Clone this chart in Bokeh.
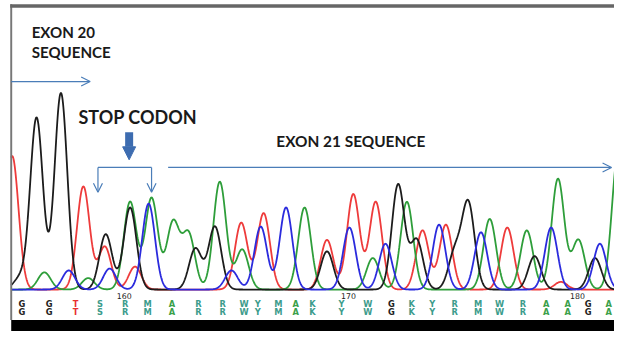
import numpy as np
from bokeh.plotting import figure
from bokeh.models import Range1d, Arrow, OpenHead, NormalHead, ColumnDataSource
from bokeh.embed import file_html
from bokeh.resources import INLINE
from bokeh.core.properties import value

# ---------------- data ----------------
first_base = 156
base_calls = list("GGTSRMARRWYMAKYWGKYRMWRAAGA")
base_scan = [22, 50, 77, 102, 128, 151, 176, 203, 228, 250, 264, 285, 303,
             320, 350, 377, 401, 422, 443, 466, 490, 512, 536, 560, 582, 603, 624]
tick_labels = ["160", "170", "180"]
tick_scan = [127, 357, 592]

# peaks per dye channel: scan position, signal height
g_pos = [20, 37, 62, 108, 133, 200, 220, 335, 408, 427, 466, 480, 548, 610]
g_amp = [12, 180, 206, 58, 86, 43, 66, 40, 110, 52, 38, 90, 35, 33]
t_pos = [12, 85, 107, 138, 247, 270, 335, 362, 385, 433, 457, 520, 575]
t_amp = [140, 108, 45, 24, 70, 80, 52, 100, 92, 62, 68, 65, 8]
a_pos = [45, 90, 133, 155, 177, 193, 225, 248, 312, 382, 417, 502, 540, 572, 593, 634]
a_amp = [18, 12, 92, 96, 70, 58, 113, 42, 86, 33, 92, 74, 62, 116, 52, 145]
c_pos = [70, 112, 152, 237, 267, 293, 358, 395, 450, 493, 565, 615]
c_amp = [20, 22, 90, 20, 66, 86, 65, 48, 68, 60, 65, 48]

# ---------------- figure (fits the window inside the 8px page margin) ----------------
W, H = 614, 331
BASE = 303  # baseline row of the trace panel (picture units)
S = W / 630.0  # size factor of the drawing


def Y(py):
    return BASE - py


def fs(px):
    return "%.1fpx" % (px * S)


p = figure(width=W, height=H, output_backend="svg", toolbar_location=None, title=None,
           x_range=Range1d(0, 630), y_range=Range1d(Y(347), Y(0)),
           x_axis_type=None, y_axis_type=None, min_border=0)
p.outline_line_color = None
p.xgrid.visible = False
p.ygrid.visible = False
p.background_fill_color = "white"
p.border_fill_color = "white"

x = np.linspace(11, 640, 1600)
SIG = 6.5


def trace(pos, amp):
    y = np.zeros_like(x)
    for c, a in zip(pos, amp):
        y += a * np.exp(-0.5 * ((x - c) / SIG) ** 2)
    return y


cols = {"G": "#1c1c1c", "T": "#ee3b3b", "A": "#2e9e3a", "C": "#2b2bdd"}
p.line(x, trace(t_pos, t_amp), line_color=cols["T"], line_width=1.8)
p.line(x, trace(a_pos, a_amp), line_color=cols["A"], line_width=1.8)
p.line(x, trace(g_pos, g_amp), line_color=cols["G"], line_width=1.8)
p.line(x, trace(c_pos, c_amp), line_color=cols["C"], line_width=1.8)

# frame pieces
p.quad(left=[10], right=[12], bottom=[Y(335)], top=[Y(4)], fill_color="#777777", line_color=None)
p.quad(left=[10], right=[630], bottom=[Y(7.5)], top=[Y(4)], fill_color="#666666", line_color=None)
p.quad(left=[11], right=[630], bottom=[Y(347)], top=[Y(335)], fill_color="black", line_color=None)

# tick labels and base calls
p.text(x=tick_scan, y=[Y(310)] * 3, text=tick_labels, text_font=value("DejaVu Sans"),
       text_font_size=fs(8), text_align="center", text_baseline="middle", text_color="#222222")

letter_col = {"G": "#222222", "T": "#e83030", "A": "#3aa04a", "C": "#2b2bdd"}
lc = [letter_col.get(b, "#3d9c8c") for b in base_calls]
for py in (318, 326.5):
    src = ColumnDataSource(dict(x=base_scan, y=[Y(py)] * len(base_scan), t=base_calls, c=lc))
    p.text(x="x", y="y", text="t", text_color="c", source=src, text_font=value("DejaVu Sans"),
           text_font_style="bold", text_font_size=fs(8.5), text_align="center", text_baseline="middle")

# annotations
font = value("Lato")
p.text(x=[32], y=[Y(33)], text=["EXON 20"], text_font=font, text_font_style="bold",
       text_font_size=fs(15.5), text_baseline="middle", text_color="#1a1a1a")
p.text(x=[32], y=[Y(54)], text=["SEQUENCE"], text_font=font, text_font_style="bold",
       text_font_size=fs(15.5), text_baseline="middle", text_color="#1a1a1a")
p.text(x=[80], y=[Y(122)], text=["STOP CODON"], text_font=font, text_font_style="bold",
       text_font_size=fs(18.5), text_baseline="middle", text_color="#1a1a1a")
p.text(x=[283], y=[Y(147.5)], text=["EXON 21 SEQUENCE"], text_font=font, text_font_style="bold",
       text_font_size=fs(15.8), text_baseline="middle", text_color="#1a1a1a")

arrow_col = "#4a7db8"
p.add_layout(Arrow(end=OpenHead(size=9, line_color=arrow_col, line_width=1.2),
                   x_start=11, y_start=Y(85), x_end=92, y_end=Y(85),
                   line_color=arrow_col, line_width=1.2))
p.add_layout(Arrow(end=NormalHead(size=13, fill_color="#3d6cb0", line_color="#3d6cb0"),
                   x_start=132, y_start=Y(138), x_end=132, y_end=Y(167),
                   line_color="#3d6cb0", line_width=8))
p.segment(x0=[100], y0=[Y(175)], x1=[155], y1=[Y(175)], line_color=arrow_col, line_width=1.2)
for xx in (100, 155):
    p.add_layout(Arrow(end=OpenHead(size=9, line_color=arrow_col, line_width=1.2),
                       x_start=xx, y_start=Y(175), x_end=xx, y_end=Y(201),
                       line_color=arrow_col, line_width=1.2))
p.add_layout(Arrow(end=OpenHead(size=9, line_color=arrow_col, line_width=1.2),
                   x_start=172, y_start=Y(175), x_end=627, y_end=Y(175),
                   line_color=arrow_col, line_width=1.2))

open("out.html", "w").write(file_html(p, INLINE))
